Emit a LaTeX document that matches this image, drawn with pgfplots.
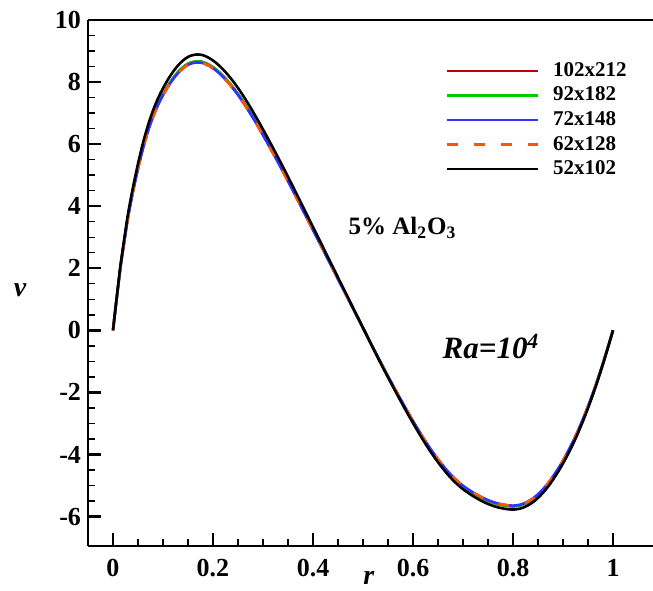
\documentclass[border=0pt]{standalone}
\usepackage{fontspec}
\setmainfont{Liberation Serif}
\usepackage{pgfplots}
\usepackage{pgfplotstable}
\pgfplotsset{compat=1.18}

\definecolor{cred}{RGB}{192,0,0}
\definecolor{cgreen}{RGB}{0,204,0}
\definecolor{cblue}{RGB}{51,51,255}
\definecolor{corange}{RGB}{255,85,0}

% vb: 52x102, vf: 102x212 / 92x182, vm: 72x148 / 62x128
\pgfplotstableread{
r vb vf vm
0.000 0.00 0.000 0.000
0.005 0.72 0.702 0.699
0.010 1.42 1.385 1.379
0.015 2.10 2.048 2.039
0.020 2.67 2.603 2.593
0.030 3.75 3.656 3.641
0.040 4.61 4.495 4.476
0.050 5.37 5.236 5.214
0.060 6.04 5.889 5.865
0.070 6.61 6.445 6.418
0.080 7.08 6.903 6.875
0.090 7.475 7.288 7.258
0.100 7.80 7.605 7.574
0.110 8.085 7.883 7.851
0.120 8.33 8.122 8.088
0.130 8.535 8.322 8.287
0.140 8.695 8.478 8.443
0.150 8.81 8.590 8.555
0.160 8.87 8.648 8.613
0.170 8.89 8.668 8.632
0.180 8.865 8.643 8.608
0.190 8.795 8.575 8.540
0.200 8.695 8.478 8.443
0.210 8.565 8.351 8.317
0.220 8.41 8.200 8.166
0.230 8.23 8.024 7.991
0.240 8.03 7.829 7.797
0.250 7.81 7.615 7.584
0.260 7.57 7.381 7.350
0.270 7.315 7.132 7.103
0.280 7.045 6.869 6.841
0.290 6.765 6.596 6.569
0.300 6.475 6.313 6.287
0.310 6.18 6.026 6.001
0.320 5.88 5.733 5.709
0.330 5.575 5.436 5.413
0.340 5.265 5.133 5.112
0.350 4.95 4.826 4.806
0.360 4.63 4.514 4.496
0.370 4.305 4.197 4.180
0.380 3.98 3.881 3.865
0.390 3.655 3.564 3.549
0.400 3.33 3.247 3.233
0.410 3.005 2.930 2.918
0.420 2.68 2.613 2.602
0.430 2.355 2.296 2.287
0.440 2.03 1.979 1.971
0.450 1.705 1.662 1.656
0.460 1.38 1.346 1.340
0.470 1.055 1.029 1.024
0.480 0.73 0.712 0.709
0.490 0.405 0.395 0.393
0.500 0.08 0.078 0.078
0.510 -0.245 -0.241 -0.240
0.520 -0.57 -0.560 -0.557
0.530 -0.89 -0.874 -0.870
0.540 -1.205 -1.183 -1.178
0.550 -1.515 -1.488 -1.482
0.560 -1.82 -1.787 -1.780
0.570 -2.12 -2.082 -2.073
0.580 -2.415 -2.372 -2.362
0.590 -2.705 -2.656 -2.645
0.600 -2.99 -2.936 -2.924
0.610 -3.265 -3.206 -3.193
0.620 -3.53 -3.466 -3.452
0.630 -3.785 -3.717 -3.702
0.640 -4.025 -3.953 -3.936
0.650 -4.25 -4.174 -4.157
0.660 -4.46 -4.380 -4.362
0.670 -4.655 -4.571 -4.553
0.680 -4.83 -4.743 -4.724
0.690 -4.985 -4.895 -4.875
0.700 -5.12 -5.028 -5.007
0.710 -5.235 -5.141 -5.120
0.720 -5.34 -5.244 -5.223
0.730 -5.435 -5.337 -5.315
0.740 -5.52 -5.421 -5.399
0.750 -5.595 -5.494 -5.472
0.760 -5.655 -5.553 -5.531
0.770 -5.705 -5.602 -5.579
0.780 -5.74 -5.637 -5.614
0.790 -5.765 -5.661 -5.638
0.800 -5.775 -5.671 -5.648
0.810 -5.76 -5.656 -5.633
0.820 -5.715 -5.612 -5.589
0.830 -5.64 -5.538 -5.516
0.840 -5.535 -5.435 -5.413
0.850 -5.40 -5.303 -5.281
0.860 -5.235 -5.141 -5.120
0.870 -5.04 -4.949 -4.929
0.880 -4.815 -4.728 -4.709
0.890 -4.565 -4.483 -4.465
0.900 -4.29 -4.213 -4.196
0.910 -3.99 -3.918 -3.902
0.920 -3.665 -3.599 -3.584
0.930 -3.31 -3.250 -3.237
0.940 -2.925 -2.872 -2.861
0.950 -2.51 -2.465 -2.455
0.960 -2.065 -2.028 -2.020
0.970 -1.59 -1.561 -1.555
0.980 -1.085 -1.065 -1.061
0.990 -0.55 -0.540 -0.538
1.000 0.00 0.000 0.000
}\vdata

\begin{document}
\begin{tikzpicture}
\begin{axis}[
  name=ax,
  width=282.5pt, height=263pt, scale only axis,
  xmin=-0.05, xmax=1.08, ymin=-6.95, ymax=10,
  clip=false,
  axis lines=left, axis line style={-, line width=1.4pt},
  tick align=inside,
  xtick={0,0.2,0.4,0.6,0.8,1}, ytick={-6,-4,-2,0,2,4,6,8,10},
  minor x tick num=3, minor y tick num=3,
  major tick length=6.5pt, minor tick length=3.5pt,
  every major tick/.style={black, line width=1.2pt},
  every minor tick/.style={black, line width=0.7pt},
  /pgf/number format/assume math mode=true,
  tick label style={font=\fontsize{13}{15}\selectfont\bfseries},
  xticklabel style={yshift=-3pt},
  xlabel={r}, ylabel={v},
  label style={font=\fontsize{14}{16}\selectfont\bfseries\itshape},
  xlabel style={at={(axis description cs:0.497,-0.061)}, anchor=center},
  ylabel style={at={(axis description cs:-0.12,0.487)}, anchor=center, rotate=-90},
  legend style={at={(rel axis cs:0.632,0.924)}, anchor=north west, draw=none, fill=none,
    font=\fontsize{10.5}{12}\selectfont\bfseries, row sep=1.8pt, inner sep=0pt,
    nodes={inner sep=1pt}},
  legend image code/.code={\draw[#1] (0pt,0pt) -- (45.5pt,0pt);},
  legend cell align=left,
  /tikz/every odd column/.append style={column sep=6pt},
  every axis plot/.append style={line width=1.3pt, smooth},
]
\addplot[cred] table[x=r,y=vf] {\vdata};
\addlegendentry{102x212}
\addplot[cgreen] table[x=r,y=vf] {\vdata};
\addlegendentry{92x182}
\addplot[cblue] table[x=r,y=vm] {\vdata};
\addlegendentry{72x148}
\addplot[corange, dash pattern=on 5.5pt off 8pt] table[x=r,y=vm] {\vdata};
\addlegendentry{62x128}
\addplot[black] table[x=r,y=vb] {\vdata};
\addlegendentry{52x102}

\draw[line width=1.4pt] (rel axis cs:0,1) -- (rel axis cs:1,1);
\node[font=\fontsize{12.5}{14}\selectfont\bfseries] at (axis cs:0.579,3.30) {5\% Al\textsubscript{2}O\textsubscript{3}};
\node[font=\fontsize{15.5}{17}\selectfont\bfseries\itshape] at (axis cs:0.756,-0.53) {Ra=10\textsuperscript{4}};
\end{axis}
\pgfresetboundingbox
\path ([xshift=-44pt,yshift=-22pt]ax.south west) rectangle ([yshift=10pt]ax.north east);
\end{tikzpicture}
\end{document}
